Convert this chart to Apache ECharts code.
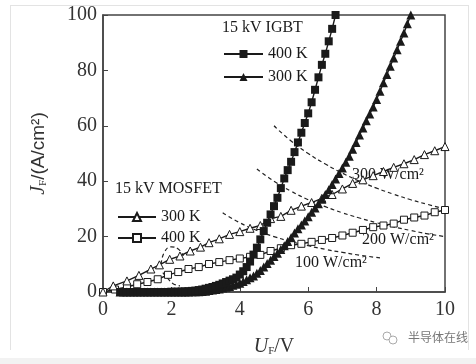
<!DOCTYPE html>
<html><head><meta charset="utf-8">
<script src="https://cdn.jsdelivr.net/npm/echarts@6/dist/echarts.min.js"></script>
<style>html,body{margin:0;padding:0;background:#fff}#c{width:476px;height:364px}</style>
</head><body><div id="c"></div>
<script>
// ---- data ----
const xTicks = [0, 2, 4, 6, 8, 10];
const yTicks = [0, 20, 40, 60, 80, 100];

const igbt400 = [[0.5,0],[0.6,0],[0.7,0],[0.8,0],[0.9,0],[1.0,0],[1.1,0],[1.2,0],[1.3,0],[1.4,0],[1.5,0],[1.6,0],[1.7,0],[1.8,0],[1.9,0],[2.0,0.1],[2.1,0.1],[2.2,0.1],[2.3,0.2],[2.4,0.2],[2.5,0.3],[2.6,0.4],[2.7,0.5],[2.8,0.7],[2.9,0.9],[3.0,1.2],[3.1,1.5],[3.2,1.8],[3.3,2.2],[3.4,2.6],[3.5,3.1],[3.6,3.6],[3.7,4.1],[3.8,4.6],[3.9,5.2],[4.0,6.3],[4.1,7.5],[4.2,9],[4.3,11],[4.4,13.5],[4.5,16],[4.6,19],[4.7,22],[4.8,25],[4.9,28],[5.0,31],[5.1,34],[5.2,37.5],[5.3,41],[5.4,44],[5.5,47],[5.6,50.5],[5.7,54],[5.8,57.5],[5.9,61],[6.0,64.5],[6.1,68.5],[6.2,73],[6.3,77.5],[6.4,82],[6.5,86],[6.6,90.5],[6.7,95],[6.8,100]];

const igbt300 = [[0.5,0],[0.6,0],[0.7,0],[0.8,0],[0.9,0],[1.0,0],[1.1,0],[1.2,0],[1.3,0],[1.4,0],[1.5,0],[1.6,0],[1.7,0],[1.8,0],[1.9,0],[2.0,0],[2.1,0],[2.2,0],[2.3,0],[2.4,0],[2.5,0],[2.6,0.1],[2.7,0.1],[2.8,0.1],[2.9,0.2],[3.0,0.3],[3.1,0.5],[3.2,0.7],[3.3,0.9],[3.4,1.1],[3.5,1.4],[3.6,1.7],[3.7,2.0],[3.8,2.4],[3.9,2.8],[4.0,3.2],[4.1,3.8],[4.2,4.4],[4.3,5.1],[4.4,5.8],[4.5,6.8],[4.6,7.8],[4.7,9],[4.8,10.3],[4.9,11.5],[5.0,12.8],[5.1,14],[5.2,15.3],[5.3,16.7],[5.4,18.2],[5.5,19.7],[5.6,21.3],[5.7,22.8],[5.8,24.2],[5.9,25.6],[6.0,27.2],[6.1,28.8],[6.2,30.3],[6.3,31.9],[6.4,33.5],[6.5,35.2],[6.6,36.9],[6.7,38.8],[6.8,40.8],[6.9,42.8],[7.0,44.8],[7.1,46.8],[7.2,49],[7.3,51.5],[7.4,54],[7.5,56.7],[7.6,59.2],[7.7,61.8],[7.8,64.3],[7.9,66.8],[8.0,69.5],[8.1,72.5],[8.2,75.5],[8.3,78.5],[8.4,81.5],[8.5,84.5],[8.6,87.5],[8.7,90.5],[8.8,93.5],[8.9,96.8],[9.0,100]];

const mos300 = [[0,0],[0.3,2.2],[0.7,4],[1.05,6],[1.4,8.3],[1.65,9.8],[1.95,11.8],[2.25,13],[2.55,14.8],[2.85,16.2],[3.1,17.8],[3.4,19.2],[3.7,20.8],[4.0,21.8],[4.3,23],[4.6,24],[4.9,26.5],[5.2,27.3],[5.5,29.5],[5.8,31],[6.1,32.3],[6.4,33.8],[6.7,35.2],[7.0,37.2],[7.3,39.2],[7.6,40.5],[7.9,42],[8.2,43.5],[8.5,45],[8.8,46.3],[9.1,47.8],[9.4,49.6],[9.7,51],[10,52.5]];

const mos400 = [[0,0],[0.35,0.9],[0.7,1.8],[1.0,2.8],[1.3,3.6],[1.6,4.6],[1.9,6.2],[2.2,7.2],[2.5,8.3],[2.8,9.0],[3.1,10.1],[3.4,10.8],[3.7,11.5],[4.0,12.1],[4.3,12.7],[4.6,13.4],[4.9,14.8],[5.2,15.8],[5.5,16.9],[5.8,17.4],[6.1,18.1],[6.4,18.8],[6.7,19.5],[7.0,20.4],[7.3,21.4],[7.6,22.4],[7.9,23.4],[8.2,24],[8.5,24.7],[8.8,26.1],[9.1,26.9],[9.4,27.6],[9.7,28.8],[10,29.6]];

const p300 = [[5.0,60],[5.5,54.5],[6,50],[6.5,46.2],[7,42.9],[7.5,40],[8,37.5],[8.5,35.3],[9,33.3],[9.5,31.6],[10,30]];
const p200 = [[4.5,44.4],[5,40],[5.5,36.4],[6,33.3],[6.5,30.8],[7,28.6],[7.5,26.7],[8,25],[8.5,23.5],[9,22.2],[9.5,21],[10,20]];
const p100 = [[3.5,28.6],[4,25],[4.5,22.2],[5,20],[5.5,18.2],[6,16.7],[6.5,15.4],[7,14.3],[7.5,13.3],[8.1,12.3]];
const pSmallA = [[1.7,10],[1.8,14.5],[2.0,16.3],[2.2,15.5],[2.35,13]];
const pSmallB = [[1.75,7],[1.9,4.8],[2.05,3],[2.25,2.2]];

const seriesNames = ['IGBT 400 K','IGBT 300 K','MOSFET 300 K','MOSFET 400 K'];
const groupTitles = ['15 kV IGBT','15 kV MOSFET'];
const powerLabels = ['300 W/cm²','200 W/cm²','100 W/cm²'];
const xName = ['U','F','/V'];
const yName = ['J','F','/(A/cm²)'];
const watermark = '半导体在线';

// ---- chart ----
const serif = '"Liberation Serif","DejaVu Serif",serif';
const ink = '#1a1a1a';
const chart = echarts.init(document.getElementById('c'), null, {renderer:'canvas'});

function dashed(data) {
  return {type:'line', data, symbol:'none', smooth:true, silent:true,
    lineStyle:{color:'#222', width:1.2, type:[4,3]}, z:1};
}
function marked(name, data, symbol, size, open) {
  return {type:'line', name, data, symbol, symbolSize:size, z: open?2:3,
    lineStyle:{color:ink, width:1.4},
    itemStyle: open ? {color:'#fff', borderColor:ink, borderWidth:1} : {color:ink, borderColor:ink, borderWidth:0},
    clip:false};
}

const legendCommon = {orient:'vertical', itemHeight:10, selectedMode:false,
  textStyle:{fontFamily:serif, fontSize:16, color:ink, lineHeight:16},
  formatter: n => n.replace(/^(IGBT|MOSFET) /,'')};

chart.setOption({
  animation:false,
  backgroundColor:'#fff',
  grid:{left:103, right:31, top:15, bottom:72, show:true, borderColor:'#444', borderWidth:1.5, backgroundColor:'transparent'},
  xAxis:{type:'value', min:0, max:10, interval:2,
    axisLine:{show:true, lineStyle:{color:'#444', width:1.5}},
    axisTick:{show:true, inside:true, length:5, lineStyle:{color:'#444'}},
    splitLine:{show:false},
    axisLabel:{fontFamily:serif, fontSize:20, color:'#333', margin:8},
    name:'{i|'+xName[0]+'}{s|'+xName[1]+'}{n|'+xName[2]+'}', nameLocation:'middle', nameGap:44,
    nameTextStyle:{rich:{
      i:{fontFamily:serif, fontStyle:'italic', fontSize:20, color:'#333'},
      s:{fontFamily:serif, fontSize:11, color:'#333', padding:[10,0,0,0]},
      n:{fontFamily:serif, fontSize:20, color:'#333'}}}
  },
  yAxis:{type:'value', min:0, max:100, interval:20,
    axisLine:{show:true, lineStyle:{color:'#444', width:1.5}},
    axisTick:{show:true, inside:true, length:5, lineStyle:{color:'#444'}},
    splitLine:{show:false},
    axisLabel:{fontFamily:serif, fontSize:20, color:'#333', margin:6},
    name:'{i|'+yName[0]+'}{s|'+yName[1]+'}{n|'+yName[2]+'}', nameLocation:'middle', nameGap:54, nameRotate:90,
    nameTextStyle:{rich:{
      i:{fontFamily:serif, fontStyle:'italic', fontSize:20, color:'#333'},
      s:{fontFamily:serif, fontSize:11, color:'#333', padding:[10,0,0,0]},
      n:{fontFamily:'"Liberation Sans",sans-serif', fontSize:19, color:'#333'}}}
  },
  legend:[
    Object.assign({left:218, top:41, itemWidth:39, itemGap:7, data:[seriesNames[0], seriesNames[1]]}, legendCommon),
    Object.assign({left:112, top:204, itemWidth:38, itemGap:5, data:[seriesNames[2], seriesNames[3]]}, legendCommon)
  ],
  series:[
    dashed(p300), dashed(p200), dashed(p100), dashed(pSmallA), dashed(pSmallB),
    marked(seriesNames[3], mos400, 'rect', 7, true),
    marked(seriesNames[2], mos300, 'triangle', 8, true),
    marked(seriesNames[1], igbt300, 'triangle', 9, false),
    marked(seriesNames[0], igbt400, 'rect', 8, false)
  ],
  graphic:[
    {type:'line', shape:{x1:10.5,y1:5,x2:10.5,y2:350}, style:{stroke:'#e3e3e3', lineWidth:1}, silent:true},
    {type:'line', shape:{x1:10,y1:5.5,x2:469,y2:5.5}, style:{stroke:'#e3e3e3', lineWidth:1}, silent:true},
    {type:'line', shape:{x1:468.5,y1:5,x2:468.5,y2:350}, style:{stroke:'#e3e3e3', lineWidth:1}, silent:true},
    {type:'rect', shape:{x:0,y:358,width:476,height:6}, style:{fill:'#f2f2f2'}, silent:true},
    {type:'text', left:222, top:20, style:{text:groupTitles[0], font:'16px '+serif, fill:ink}},
    {type:'text', left:115, top:181, style:{text:groupTitles[1], font:'16px '+serif, fill:ink}},
    {type:'text', left:352, top:167, style:{text:powerLabels[0], font:'16px '+serif, fill:ink}},
    {type:'text', left:362, top:232, style:{text:powerLabels[1], font:'16px '+serif, fill:ink}},
    {type:'text', left:295, top:255, style:{text:powerLabels[2], font:'16px '+serif, fill:ink}},
    {type:'circle', shape:{cx:387,cy:336,r:4}, style:{fill:'none', stroke:'#aaa', lineWidth:1}, silent:true},
    {type:'circle', shape:{cx:393,cy:340,r:4}, style:{fill:'#fff', stroke:'#aaa', lineWidth:1}, silent:true},
    {type:'text', left:408, top:331, style:{text:watermark, font:'12px "Noto Sans CJK SC",sans-serif', fill:'#777'}}
  ]
});
</script></body></html>
